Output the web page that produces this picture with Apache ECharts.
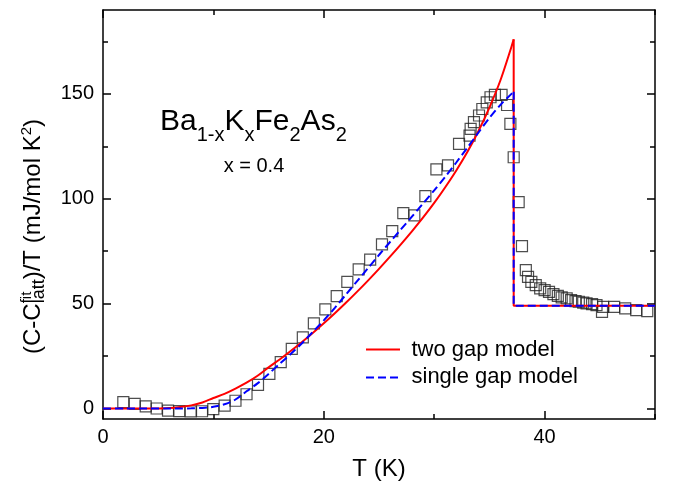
<!DOCTYPE html>
<html><head><meta charset="utf-8">
<script src="https://cdn.jsdelivr.net/npm/echarts@6/dist/echarts.min.js"></script>
<style>html,body{margin:0;padding:0;background:#fff}#c{width:676px;height:491px}</style>
</head><body><div id="c"></div>
<script>
// ---- data ----
const expT = [1.84,2.87,3.87,4.86,5.89,6.91,7.94,8.97,9.99,11.02,12.0,13.0,14.04,15.07,16.1,17.1,18.1,19.1,20.14,21.17,22.13,23.16,24.2,25.27,26.2,27.2,28.2,29.2,30.2,31.25,32.25,33.2,33.3,33.6,34.06,34.36,34.76,35.1,35.5,36.1,36.6,36.9,37.2,37.65,37.95,38.3,38.5,38.8,39.2,39.6,40.0,40.4,40.8,41.2,41.55,42.0,42.4,42.8,43.1,43.5,43.8,44.3,44.7,45.2,45.3,46.3,47.3,48.3,49.3];
const expV = [3.0,2.2,1.0,0,-1,-1.2,-1.4,-1.3,-0.3,1.4,3.7,6.8,11.3,16.5,22.1,28.4,33.9,40.6,47.3,53.6,60.4,66.3,71.0,78.3,84.6,93.2,92.1,101.3,114.0,115.9,126.2,130.1,133.3,136.5,139.7,142.8,146,148.4,149.5,149.5,144.7,135.7,119.8,98.4,77.4,66,62.8,60.4,58.8,57.3,56.4,55.6,54.5,53.7,53,52.5,51.7,51.2,50.9,50.5,50.1,49.8,49.3,46.1,48.5,48.5,47.7,46.9,46.4];

const twoGapT = [0,2,4,5,6,7,8,9,10,11,12,13,14,15,16,17,18,19,20,21,22,23,24,25,26,27,28,29,30,31,32,33,34,35,36,37,37.2];
const twoGapV = [0,0,0,0.05,0.2,0.7,1.5,2.9,5.0,7.0,9.5,12.3,15.6,19.6,23.4,27.4,31.6,36,40.6,45.4,50.4,55.6,61,66.6,72.4,78.4,84.6,91.1,98,105.5,113.5,122.3,132.2,143.5,156.5,172.5,176];
const twoGapStepT = [37.2,37.2,50];
const twoGapStepV = [176,49,49];

const singleGapT = [0,2,4,6,7,8,9,10,11,12,13,14,15,16,17,18,19,20,21,22,23,24,25,26,27,28,29,30,31,32,33,34,35,36,37,37.2];
const singleGapV = [0,0,0,0,0,0.1,0.3,0.8,2.0,4.3,8.2,12,16.5,21.3,26,31,36.5,42,48,54.3,60.6,66.9,73.2,79.4,85.5,91.6,97.8,104,110.5,117.3,124.3,131.5,138.5,144.8,150,151];
const singleGapStepT = [37.2,37.2,50];
const singleGapStepV = [151,49,49];

const xMajor = [0,20,40];
const xMinor = [10,30,50];
const yMajor = [0,50,100,150];
const yMinor = [25,75,125,175];

const seriesNames = ['two gap model','single gap model'];

// ---- chart ----
const FONT = '"Liberation Sans", Arial, sans-serif';
const RED = '#ff0000', BLUE = '#0000ff', DASH = [8,4];
const zip = (a,b) => a.map((v,i)=>[v,b[i]]);

function axis(kind, pos, major, isMajor, withLabels) {
  return {
    type:'value', gridIndex:0, position:pos,
    min: kind==='x' ? 0 : -5, max: kind==='x' ? 50 : 190,
    axisLine:{show:isMajor, onZero:false, lineStyle:{color:'#000', width:1.5}},
    axisTick:{show:true, inside:true, length:isMajor?8:5, customValues:major, lineStyle:{color:'#000', width:1.5}},
    axisLabel: withLabels ? {show:true, customValues:major, fontSize:20, color:'#000', fontFamily:FONT, margin: kind==='x'?8:9} : {show:false},
    splitLine:{show:false}
  };
}

const cv = document.createElement('canvas').getContext('2d');
function measure(t, s) { cv.font = s + 'px "Liberation Sans"'; return cv.measureText(t).width; }
function txt(x, y, text, size, align) {
  return {type:'text', x:x, y:y, z:100,
    style:{text:text, fontSize:size, fontFamily:FONT, fill:'#000',
           align:align||'left', textAlign:align||'left', verticalAlign:'middle', textVerticalAlign:'middle'}};
}
function runText(segs, x0, base) {
  let x = x0; const els = [];
  for (const s of segs) {
    els.push(txt(x, base + (s.dy||0) - 0.3465*s.size, s.text, s.size));
    if (!s.stack) x += measure(s.text, s.size);
  }
  return els;
}

const formula = runText([
  {text:'Ba', size:30},{text:'1-x', size:20, dy:11},{text:'K', size:30},{text:'x', size:20, dy:11},
  {text:'Fe', size:30},{text:'2', size:20, dy:11},{text:'As', size:30},{text:'2', size:20, dy:11}
], 160, 131.7);

const yName = runText([
  {text:'(C-C', size:24},{text:'fit', size:15, dy:-10, stack:true},{text:'latt', size:18, dy:3},
  {text:')/T (mJ/mol K', size:24},{text:'2', size:15, dy:-10},{text:')', size:24}
], 0, 0);

const legendEls = [
  {type:'line', z:100, shape:{x1:366, y1:349.5, x2:400, y2:349.5}, style:{stroke:RED, lineWidth:2}},
  txt(411.5, 349.5, seriesNames[0], 22),
  {type:'line', z:100, shape:{x1:366, y1:377.5, x2:400, y2:377.5}, style:{stroke:BLUE, lineWidth:2, lineDash:DASH}},
  txt(411.5, 377, seriesNames[1], 22)
];

const chart = echarts.init(document.getElementById('c'));
chart.setOption({
  animation:false,
  backgroundColor:'#fff',
  grid:{left:103, right:21, top:10, bottom:72, containLabel:false},
  xAxis:[
    Object.assign(axis('x','bottom',xMajor,true,true), {name:'T (K)', nameLocation:'middle', nameGap:38, nameTextStyle:{fontSize:24, fontFamily:FONT, color:'#000'}}),
    axis('x','bottom',xMinor,false,false),
    axis('x','top',xMajor,true,false),
    axis('x','top',xMinor,false,false)
  ],
  yAxis:[
    axis('y','left',yMajor,true,true),
    axis('y','left',yMinor,false,false),
    axis('y','right',yMajor,true,false),
    axis('y','right',yMinor,false,false)
  ],
  series:[
    {type:'scatter', name:'data', data:zip(expT,expV), symbol:'rect', symbolSize:11,
      itemStyle:{color:'rgba(0,0,0,0)', borderColor:'#222', borderWidth:1.2}, z:3},
    {type:'line', name:seriesNames[0], data:zip(twoGapT,twoGapV), smooth:0.3, symbol:'none',
      lineStyle:{color:RED, width:2, type:'solid'}, z:4},
    {type:'line', name:seriesNames[0], data:zip(twoGapStepT,twoGapStepV), symbol:'none',
      lineStyle:{color:RED, width:2, type:'solid'}, z:4},
    {type:'line', name:seriesNames[1], data:zip(singleGapT,singleGapV), smooth:0.3, symbol:'none',
      lineStyle:{color:BLUE, width:2, type:DASH}, z:5},
    {type:'line', name:seriesNames[1], data:zip(singleGapStepT,singleGapStepV), symbol:'none',
      lineStyle:{color:BLUE, width:2, type:DASH}, z:5}
  ],
  graphic:[
    ...formula,
    txt(254, 173 - 0.3465*20, 'x = 0.4', 20, 'center'),
    {type:'group', x:42, y:354, rotation:Math.PI/2, children:yName},
    ...legendEls
  ]
});
</script>
</body></html>
